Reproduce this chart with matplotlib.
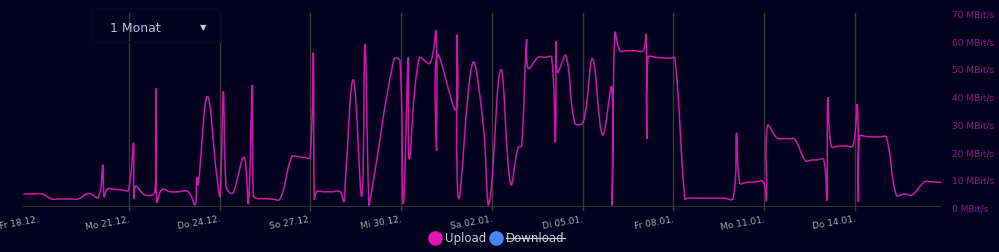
import numpy as np
import matplotlib
matplotlib.use("Agg")
import matplotlib.pyplot as plt
from matplotlib.path import Path
from matplotlib.patches import PathPatch, Rectangle
from matplotlib.lines import Line2D

# Messzeitpunkte (Stunden ab Fr 18.12. 00:00) und Upload in MBit/s
hours = [-11.7, -5, 2.9, 10.9, 17, 24, 31.7, 39.9, 47.8, 51.3,
         52.3, 54.9, 60, 66, 71.6, 75.6, 76.0, 77.5, 84.8, 92.5,
         93.3, 94.1, 98.1, 104.7, 111, 119.2, 124.5, 126.0, 127.0, 134.2,
         141.7, 144.3, 146.9, 149.0, 152.2, 154.9, 163.3, 166.7, 169.9, 170.7,
         173.4, 179, 185, 191.9, 201.2, 206, 211, 215.7, 218.3, 219.1,
         221.0, 227, 233, 239.5, 242.6, 243.5, 250.0, 256.7, 259.3, 262.4,
         264.0, 282.3, 287.0, 289.7, 293.6, 294.4, 302.3, 310.8, 315.6, 316.1,
         316.6, 331.4, 332.0, 333.6, 344.7, 353.1, 357.0, 359.2, 367.1, 374.8,
         380.8, 383.5, 387.5, 388.8, 396.7, 402, 407.3, 410.3, 411.0, 412.0,
         418.6, 425.8, 432.4, 439.8, 447.7, 454.9, 455.4, 457.5, 461.5, 467,
         473, 479.9, 482.3, 482.9, 483.9, 490, 496, 501, 505.1, 513.0,
         515.6, 522, 529, 536, 543, 551.3, 554.0, 556.6, 562, 568,
         575.1, 577.8, 578.5, 586.2, 591, 596, 600.2, 608.7, 613, 618,
         623.2, 625.6, 626.4, 629.3, 635, 641, 646.4, 649.9, 650.7, 651.8,
         657, 662, 668, 672.9, 680.8, 687.4, 693.5, 703.3, 710, 716.5]
upload = [4.7, 4.7, 4.7, 2.9, 2.9, 2.9, 2.9, 4.9, 3.5, 15.2,
          3.7, 6.5, 6.4, 6.2, 6.1, 23.0, 2.9, 7.5, 4.3, 5.3,
          42.8, 1.9, 6.3, 5.5, 5.5, 5.5, 0.8, 10.7, 8.0, 39.8,
          11.3, 4.1, 41.6, 7.7, 5.1, 5.3, 17.9, 1.1, 44.0, 4.1,
          3.1, 3.0, 2.9, 2.9, 18.2, 18.1, 17.9, 17.8, 55.6, 2.9,
          5.5, 5.5, 5.5, 5.5, 1.9, 8.0, 45.9, 3.9, 58.8, 0.8,
          4.0, 53.4, 52.8, 1.1, 54.0, 17.3, 53.7, 51.9, 63.4, 20.3,
          54.9, 35.1, 62.2, 3.1, 51.9, 29.3, 0.7, 5.3, 49.6, 8.3,
          21.5, 22.1, 60.4, 50.0, 54.0, 54.0, 54.0, 23.3, 59.9, 48.6,
          54.6, 30.3, 30.6, 53.4, 26.0, 43.2, 0.5, 62.8, 56.4, 56.4,
          56.4, 56.4, 62.1, 24.5, 54.0, 54.0, 53.8, 53.7, 53.7, 2.9,
          3.2, 3.2, 3.2, 3.2, 3.2, 3.2, 26.7, 8.7, 8.9, 9.0,
          9.1, 2.3, 29.3, 24.8, 24.7, 24.6, 24.5, 16.7, 16.9, 17.0,
          17.1, 2.3, 39.3, 21.8, 22.0, 22.0, 22.1, 36.8, 1.9, 25.5,
          25.4, 25.3, 25.3, 25.2, 4.3, 4.7, 4.4, 9.1, 9.0, 8.9]

tick_hours = [0, 72, 144, 216, 288, 360, 432, 504, 576, 648]
tick_labels = ["Fr 18.12.", "Mo 21.12.", "Do 24.12.", "So 27.12.", "Mi 30.12.",
               "Sa 02.01.", "Di 05.01.", "Fr 08.01.", "Mo 11.01.", "Do 14.01."]
y_ticks = [0, 10, 20, 30, 40, 50, 60, 70]

bg = "#03021e"
line_col = "#cc18aa"
grid_col = "#3a3a32"

fig = plt.figure(figsize=(9.99, 2.53), dpi=100, facecolor=bg)
ax = fig.add_axes([23 / 999, 1 - 208 / 253, (942 - 23) / 999, 194 / 253])
ax.set_facecolor(bg)
ax.set_xlim(-12, 717)
ax.set_ylim(0, 70)

# Kurve wie Chart.js (tension 0.4) als Bezier-Pfad
pts = ax.transData.transform(np.column_stack([hours, upload]))
x0, y0 = ax.transData.transform((-12, 0))
x1, y1 = ax.transData.transform((717, 70))
t = 0.4
n = len(pts)
cp_prev = np.zeros_like(pts)
cp_next = np.zeros_like(pts)
for i in range(n):
    p = pts[max(i - 1, 0)]
    c = pts[i]
    q = pts[min(i + 1, n - 1)]
    d01 = np.hypot(*(c - p))
    d12 = np.hypot(*(q - c))
    s = d01 + d12
    s01 = d01 / s if s else 0
    s12 = d12 / s if s else 0
    cp_prev[i] = c - t * s01 * (q - p)
    cp_next[i] = c + t * s12 * (q - p)
for arr in (cp_prev, cp_next):
    arr[:, 0] = np.clip(arr[:, 0], x0, x1)
    arr[:, 1] = np.clip(arr[:, 1], y0, y1)

verts = [pts[0]]
codes = [Path.MOVETO]
for i in range(n - 1):
    verts += [cp_next[i], cp_prev[i + 1], pts[i + 1]]
    codes += [Path.CURVE4] * 3
verts = ax.transData.inverted().transform(np.array(verts))
ax.add_patch(PathPatch(Path(verts, codes), fill=False, edgecolor=line_col,
                       lw=1.1, zorder=3))

# Gitter und Achse
for h in tick_hours[1:]:
    ax.axvline(h, ymin=-0.015, ymax=1, color=grid_col, lw=1, zorder=1, clip_on=False)
ax.axhline(0, color=grid_col, lw=1.2, zorder=2)
for s in ax.spines.values():
    s.set_visible(False)

ax.set_xticks(tick_hours)
ax.set_xticklabels(tick_labels, rotation=10, ha="right", rotation_mode="anchor",
                   color="#a5a5ad", fontsize=6.5)
ax.tick_params(axis="x", length=0, pad=5)
ax.yaxis.tick_right()
ax.set_yticks(y_ticks)
ax.set_yticklabels([f"{v} MBit/s" for v in y_ticks], color="#961486", fontsize=6.5)
ax.tick_params(axis="y", length=0, pad=7)

# Zeitraum-Auswahl
fig.patches.append(Rectangle((92 / 999, 1 - 43 / 253), 128 / 999, 34 / 253,
                             transform=fig.transFigure, fill=False,
                             edgecolor="#070724", lw=1))
fig.text(110 / 999, 1 - 28 / 253, "1 Monat", color="#b4bcdc", fontsize=9,
         va="center", ha="left")
fig.text(203 / 999, 1 - 28 / 253, "\u25BC", color="#c8c8d0", fontsize=6,
         va="center", ha="center")

# Legende
ly = 1 - 239 / 253
fig.add_artist(Line2D([435 / 999], [ly], marker="o", markersize=9.5, ls="none",
                      color="#e014b4", transform=fig.transFigure))
fig.text(445 / 999, ly, "Upload", color="#c8c8d4", fontsize=8.5,
         va="center", ha="left")
fig.add_artist(Line2D([496 / 999], [ly], marker="o", markersize=9.5, ls="none",
                      color="#4a86f0", transform=fig.transFigure))
dl = fig.text(506 / 999, ly, "Download", color="#c8c8d4", fontsize=8.5,
              va="center", ha="left")
fig.canvas.draw()
bb = dl.get_window_extent().transformed(fig.transFigure.inverted())
fig.add_artist(Line2D([bb.x0, bb.x1], [(bb.y0 + bb.y1) / 2] * 2,
                      transform=fig.transFigure, color="#c8c8d4", lw=0.9))

fig.savefig("out.png", dpi=100, facecolor=bg)
